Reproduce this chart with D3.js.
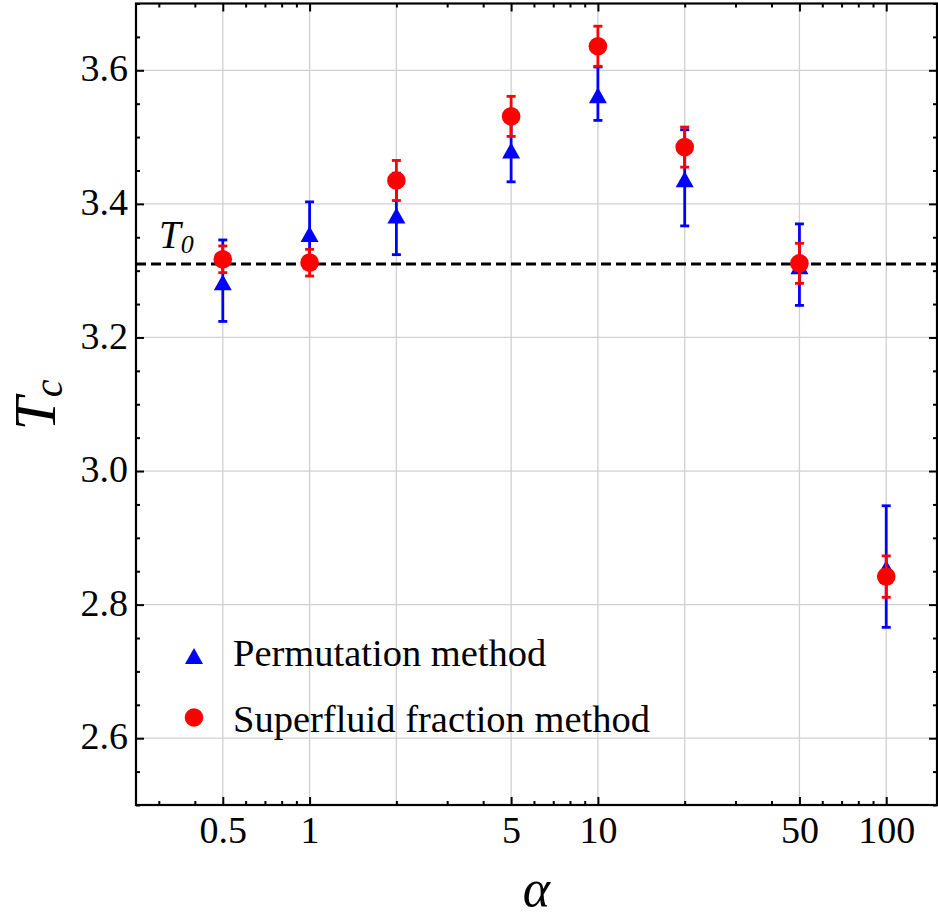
<!DOCTYPE html>
<html>
<head>
<meta charset="utf-8">
<script src="https://cdn.jsdelivr.net/npm/d3@7"></script>
<style>
body { margin: 0; background: #fff; }
text { font-family: "Liberation Serif", "Times New Roman", serif; fill: #000; }
</style>
</head>
<body>
<div id="graph"></div>
<script>
// data
var alpha = [0.5, 1, 2, 5, 10, 20, 50, 100];
var permTc = [3.285, 3.357, 3.385, 3.482, 3.565, 3.439, 3.309, 2.857];
var permErr = [0.061, 0.046, 0.061, 0.049, 0.040, 0.072, 0.061, 0.091];
var sfTc = [3.317, 3.312, 3.435, 3.531, 3.636, 3.485, 3.311, 2.842];
var sfErr = [0.020, 0.020, 0.030, 0.030, 0.030, 0.030, 0.030, 0.031];
var T0 = 3.31;

var xTicks = [0.5, 1, 5, 10, 50, 100];
var xTickLabels = ["0.5", "1", "5", "10", "50", "100"];
var xMinor = [0.3, 0.4, 0.6, 0.7, 0.8, 0.9, 2, 3, 4, 6, 7, 8, 9, 20, 30, 40, 60, 70, 80, 90];
var xGrid = [0.5, 1, 2, 5, 10, 20, 50, 100];
var yTicks = [2.6, 2.8, 3.0, 3.2, 3.4, 3.6];
var yTickLabels = ["2.6", "2.8", "3.0", "3.2", "3.4", "3.6"];
var legendLabels = ["Permutation method", "Superfluid fraction method"];

var W = 938, H = 915;
var margin = {top: 3.5, right: 1, bottom: 110, left: 136},
    width = W - margin.left - margin.right,
    height = H - margin.top - margin.bottom;

var svg = d3.select('#graph').append("svg")
    .attr("width", W)
    .attr("height", H)
  .append("g")
    .attr("transform", "translate(" + margin.left + "," + margin.top + ")");

var x = d3.scaleLog().domain([0.25, 150]).range([0, width]),
    y = d3.scaleLinear().domain([2.5, 3.7]).range([height, 0]);

var yMinor = y.ticks(24).filter(function(d) {
  return yTicks.every(function(t) { return Math.abs(t - d) > 1e-6; });
});

// grid
svg.append("g").selectAll("line").data(xGrid).enter().append("line")
    .attr("x1", function(d) { return x(d); }).attr("x2", function(d) { return x(d); })
    .attr("y1", 0).attr("y2", height)
    .attr("stroke", "#d0d0d0").attr("stroke-width", 1.3);
svg.append("g").selectAll("line").data(yTicks).enter().append("line")
    .attr("y1", function(d) { return y(d); }).attr("y2", function(d) { return y(d); })
    .attr("x1", 0).attr("x2", width)
    .attr("stroke", "#d0d0d0").attr("stroke-width", 1.3);

// T0 dashed line
svg.append("line")
    .attr("x1", 0).attr("x2", width)
    .attr("y1", y(T0)).attr("y2", y(T0))
    .attr("stroke", "#000").attr("stroke-width", 3)
    .attr("stroke-dasharray", "10,5");

var t0 = svg.append("text")
    .attr("x", 23).attr("y", y(T0) - 16)
    .style("font-size", "39px").style("font-style", "italic");
t0.append("tspan").text("T");
t0.append("tspan").attr("dy", 5).style("font-size", "26px").text("0");

// axes (ticks inward, on all four sides)
function styleAxis(g) {
  g.select(".domain").remove();
  g.selectAll(".tick line").attr("stroke", "#000").attr("stroke-width", 2);
  g.selectAll(".tick text").style("font-size", "38px")
      .style("font-family", '"Liberation Serif", "Times New Roman", serif');
}

svg.append("g").attr("transform", "translate(0," + height + ")")
    .call(d3.axisBottom(x).tickValues(xTicks).tickSize(-8).tickPadding(11)
      .tickFormat(function(d, i) { return xTickLabels[i]; }))
    .call(styleAxis);
svg.append("g").attr("transform", "translate(0," + height + ")")
    .call(d3.axisBottom(x).tickValues(xMinor).tickSize(-4).tickFormat(""))
    .call(styleAxis);
svg.append("g")
    .call(d3.axisTop(x).tickValues(xTicks).tickSize(-8).tickFormat(""))
    .call(styleAxis);
svg.append("g")
    .call(d3.axisTop(x).tickValues(xMinor).tickSize(-4).tickFormat(""))
    .call(styleAxis);

svg.append("g")
    .call(d3.axisLeft(y).tickValues(yTicks).tickSize(-8).tickPadding(8)
      .tickFormat(function(d, i) { return yTickLabels[i]; }))
    .call(styleAxis)
    .selectAll(".tick text").attr("dy", "0.28em");
svg.append("g")
    .call(d3.axisLeft(y).tickValues(yMinor).tickSize(-4).tickFormat(""))
    .call(styleAxis);
svg.append("g").attr("transform", "translate(" + width + ",0)")
    .call(d3.axisRight(y).tickValues(yTicks).tickSize(-8).tickFormat(""))
    .call(styleAxis);
svg.append("g").attr("transform", "translate(" + width + ",0)")
    .call(d3.axisRight(y).tickValues(yMinor).tickSize(-4).tickFormat(""))
    .call(styleAxis);

// frame
svg.append("rect")
    .attr("x", 0).attr("y", 0).attr("width", width).attr("height", height)
    .attr("fill", "none").attr("stroke", "#000").attr("stroke-width", 2.2);

// series
var permData = alpha.map(function(a, i) { return {a: a, v: permTc[i], e: permErr[i]}; }),
    sfData = alpha.map(function(a, i) { return {a: a, v: sfTc[i], e: sfErr[i]}; });

var triPath = "M0,-6.5L9,9.5L-9,9.5Z";

function errorBars(data, color) {
  var g = svg.append("g").attr("stroke", color).attr("stroke-width", 2.8);
  g.selectAll(".bar").data(data).enter().append("line")
      .attr("x1", function(d) { return x(d.a); }).attr("x2", function(d) { return x(d.a); })
      .attr("y1", function(d) { return y(d.v - d.e); })
      .attr("y2", function(d) { return y(d.v + d.e); });
  g.selectAll(".capTop").data(data).enter().append("line")
      .attr("x1", function(d) { return x(d.a) - 4.5; }).attr("x2", function(d) { return x(d.a) + 4.5; })
      .attr("y1", function(d) { return y(d.v + d.e); })
      .attr("y2", function(d) { return y(d.v + d.e); });
  g.selectAll(".capBot").data(data).enter().append("line")
      .attr("x1", function(d) { return x(d.a) - 4.5; }).attr("x2", function(d) { return x(d.a) + 4.5; })
      .attr("y1", function(d) { return y(d.v - d.e); })
      .attr("y2", function(d) { return y(d.v - d.e); });
}

errorBars(permData, "#0000ff");
svg.append("g").selectAll("path").data(permData).enter().append("path")
    .attr("d", triPath)
    .attr("transform", function(d) { return "translate(" + x(d.a) + "," + y(d.v) + ")"; })
    .attr("fill", "#0000ff");

errorBars(sfData, "#ff0000");
svg.append("g").selectAll("circle").data(sfData).enter().append("circle")
    .attr("cx", function(d) { return x(d.a); })
    .attr("cy", function(d) { return y(d.v); })
    .attr("r", 9.3)
    .attr("fill", "#ff0000");

// legend
var legend = svg.append("g").attr("transform", "translate(58,648)");
legend.append("path").attr("d", triPath).attr("fill", "#0000ff")
    .attr("transform", "translate(0,3)");
legend.append("circle").attr("cx", 0).attr("cy", 66).attr("r", 9.3).attr("fill", "#ff0000");
legend.selectAll("text").data(legendLabels).enter().append("text")
    .attr("x", 39)
    .attr("y", function(d, i) { return 14 + i * 66; })
    .style("font-size", "38.5px")
    .text(function(d) { return d; });

// axis titles
svg.append("text")
    .attr("x", width / 2).attr("y", 902)
    .attr("text-anchor", "middle")
    .style("font-size", "52px").style("font-style", "italic")
    .text("\u03b1");

var tc = svg.append("text")
    .attr("transform", "translate(" + (55 - margin.left) + "," + (405 - margin.top) + ") rotate(-90)")
    .attr("text-anchor", "middle")
    .style("font-size", "60px").style("font-style", "italic");
tc.append("tspan").text("T");
tc.append("tspan").attr("dy", 7).style("font-size", "40px").text("c");
</script>
</body>
</html>
